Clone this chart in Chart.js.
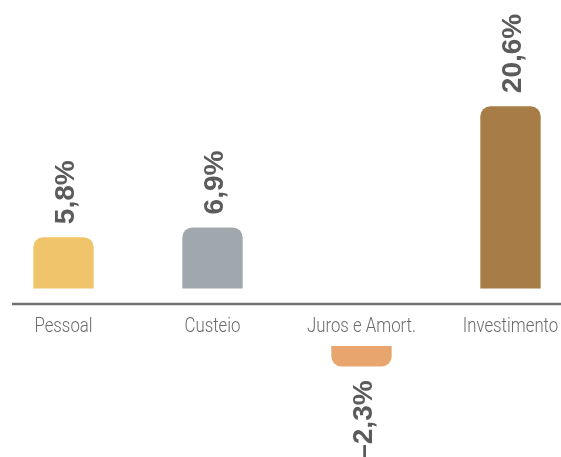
<!DOCTYPE html>
<html>
<head>
<meta charset="utf-8">
<script src="https://cdn.jsdelivr.net/npm/chart.js@4/dist/chart.umd.min.js"></script>
<style>
  html, body { margin: 0; padding: 0; background: #ffffff; }
  #wrap { width: 561px; height: 457px; }
</style>
</head>
<body>
<div id="wrap"><canvas id="c" width="561" height="457"></canvas></div>
<script>
// Budget growth by spending group (% change)
const categories = ['Pessoal', 'Custeio', 'Juros e Amort.', 'Investimento'];
const growth = [5.8, 6.9, -2.3, 20.6];
const barColors = ['#F0C46A', '#A0A7AD', '#E8A56E', '#A87C46'];

// Positive bars grow up from the axis; negative bars hang below the category labels
const positives = growth.map(v => (v >= 0 ? v : null));
const negatives = growth.map(v => (v < 0 ? v : null));

const AXIS_AT = -1.74; // where the category axis line sits on the main value scale

const fmt = v => v.toFixed(1).replace('.', ',').replace('-', '\u2013') + '%';

// Full-width baseline plus condensed category names under it
const axisPlugin = {
  id: 'axisLine',
  beforeDatasetsDraw(chart) {
    const y = chart.scales.y.getPixelForValue(AXIS_AT);
    const ctx = chart.ctx;
    ctx.save();
    ctx.strokeStyle = '#707070';
    ctx.lineWidth = 2.5;
    ctx.beginPath();
    ctx.moveTo(12, y);
    ctx.lineTo(chart.width, y);
    ctx.stroke();

    ctx.fillStyle = '#6a6a6a';
    ctx.font = '300 20px Roboto, "Liberation Sans", sans-serif';
    ctx.textAlign = 'center';
    ctx.textBaseline = 'alphabetic';
    const xs = chart.scales.x;
    categories.forEach((name, i) => {
      ctx.save();
      ctx.translate(xs.getPixelForValue(i), y + 28);
      ctx.scale(0.84, 1);
      ctx.fillText(name, 0, 0);
      ctx.restore();
    });
    ctx.restore();
  }
};

// Rotated value labels at the outer end of each bar
const valueLabels = {
  id: 'valueLabels',
  afterDatasetsDraw(chart) {
    const ctx = chart.ctx;
    const size = 28;
    const capHalf = size * 0.716 / 2;
    ctx.save();
    ctx.font = 'bold ' + size + 'px "Liberation Sans", Arial, sans-serif';
    ctx.fillStyle = '#5b5b5b';
    ctx.textBaseline = 'alphabetic';
    chart.getSortedVisibleDatasetMetas().forEach(meta => {
      const ds = chart.data.datasets[meta.index];
      meta.data.forEach((bar, i) => {
        const v = ds.data[i];
        if (v === null || v === undefined) return;
        ctx.save();
        if (v >= 0) {
          ctx.translate(bar.x, bar.y - 13);
          ctx.rotate(-Math.PI / 2);
          ctx.textAlign = 'left';
        } else {
          ctx.translate(bar.x, bar.y + 14);
          ctx.rotate(-Math.PI / 2);
          ctx.textAlign = 'right';
        }
        ctx.fillText(fmt(v), 0, capHalf);
        ctx.restore();
      });
    });
    ctx.restore();
  }
};

const barStyle = {
  borderRadius: 10,
  grouped: false,
  clip: false,
  categoryPercentage: 1,
  barPercentage: 0.405
};

new Chart(document.getElementById('c'), {
  type: 'bar',
  data: {
    labels: categories,
    datasets: [
      Object.assign({ data: positives, backgroundColor: barColors, yAxisID: 'y' }, barStyle),
      Object.assign({ data: negatives, backgroundColor: barColors, yAxisID: 'y2' }, barStyle)
    ]
  },
  options: {
    responsive: false,
    devicePixelRatio: 1,
    animation: false,
    layout: { padding: { left: 63.5, right: 50.5, top: 0, bottom: 0 } },
    plugins: {
      legend: { display: false },
      tooltip: { enabled: false }
    },
    scales: {
      x: {
        type: 'category',
        offset: false,
        display: false
      },
      y: {
        display: false,
        min: -19.04,
        max: 32.6
      },
      y2: {
        display: false,
        min: -12.54,
        max: 39.1
      }
    }
  },
  plugins: [axisPlugin, valueLabels]
});
</script>
</body>
</html>
